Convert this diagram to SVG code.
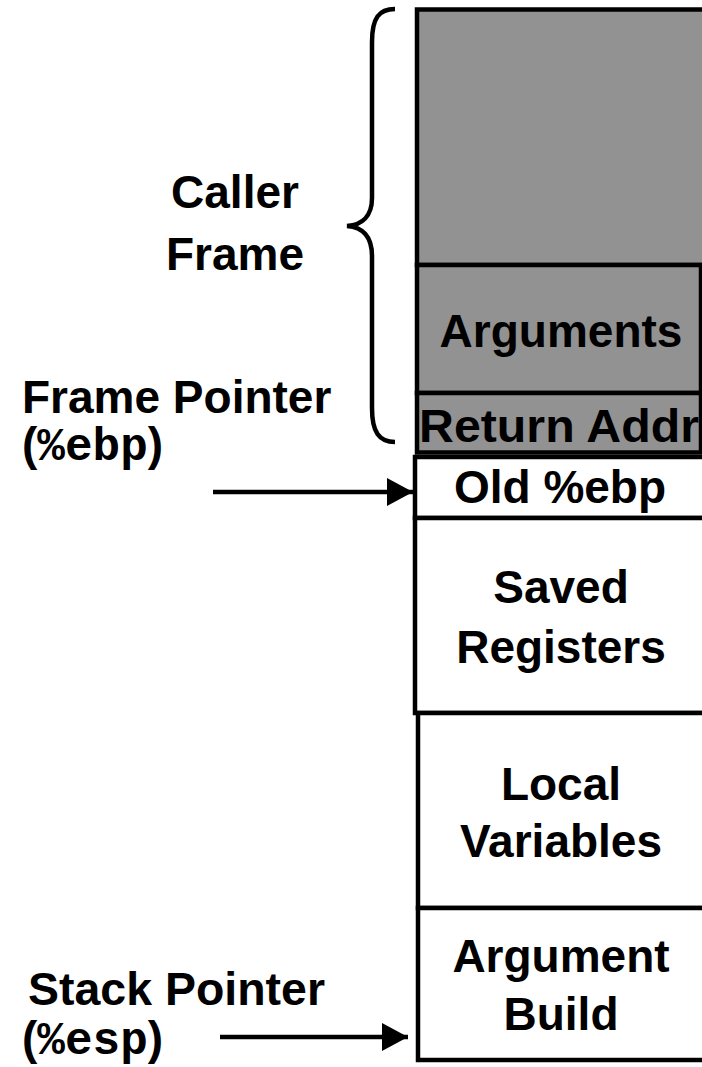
<svg xmlns="http://www.w3.org/2000/svg" width="702" height="1067" viewBox="0 0 702 1067">
<defs>
<style>
.g{fill:#929292;stroke:#000;stroke-width:4.5}
.w{fill:#fff;stroke:#000;stroke-width:4.5}
.t{font-family:"Liberation Sans",Arial,sans-serif;font-weight:bold;font-size:46px;fill:#000;text-anchor:middle}
.l{font-family:"Liberation Sans",Arial,sans-serif;font-weight:bold;font-size:46px;fill:#000}
.m{font-family:"Liberation Mono","Courier New",monospace;font-weight:bold}
.c{stroke:#000;stroke-width:4.5;fill:none}
</style>
<marker id="ah" markerUnits="userSpaceOnUse" markerWidth="28" markerHeight="30" refX="26" refY="14" orient="auto">
<path d="M0,0 L26,14 L0,28 Z" fill="#000"/>
</marker>
</defs>
<rect width="702" height="1067" fill="#fff"/>
<g id="caller-frame-top"><rect class="g" x="417" y="9.5" width="300" height="255.5"/></g>
<g id="arguments"><rect class="g" x="417" y="265" width="284" height="128"/><text class="t" x="561" y="347">Arguments</text></g>
<g id="return-addr"><rect class="g" x="417" y="393" width="284" height="59.5"/><text class="t" x="559" y="442" textLength="280" lengthAdjust="spacingAndGlyphs">Return Addr</text></g>
<g id="old-ebp"><rect class="w" x="415" y="457" width="300" height="61"/><text class="t" x="560" y="503">Old %ebp</text></g>
<g id="saved-registers"><rect class="w" x="415" y="518" width="300" height="195"/><text class="t" x="561" y="603">Saved</text><text class="t" x="561" y="663">Registers</text></g>
<g id="local-variables"><rect class="w" x="418" y="713" width="300" height="195"/><text class="t" x="561" y="800">Local</text><text class="t" x="561" y="857">Variables</text></g>
<g id="argument-build"><rect class="w" x="418" y="908" width="300" height="152"/><text class="t" x="561" y="972">Argument</text><text class="t" x="561" y="1030">Build</text></g>
<g id="caller-frame-label"><text class="t" x="235" y="208">Caller</text><text class="t" x="235" y="270">Frame</text></g>
<g id="frame-pointer-label"><text class="l" x="22" y="413">Frame Pointer</text><text class="l" x="22" y="460">(<tspan class="m">%ebp</tspan>)</text></g>
<g id="stack-pointer-label"><text class="l" x="28" y="1005" textLength="297" lengthAdjust="spacingAndGlyphs">Stack Pointer</text><text class="l" x="22" y="1054">(<tspan class="m">%esp</tspan>)</text></g>
<g id="connectors">
<path class="c" d="M395,9 C379,9 372,18 372,42 L372,198 C372,216 362,225 347,226 C362,227 372,236 372,256 L372,408 C372,432 379,442 395,442"/>
<line class="c" x1="213" y1="492" x2="413" y2="492" marker-end="url(#ah)"/>
<line class="c" x1="220" y1="1037" x2="408" y2="1037" marker-end="url(#ah)"/>
</g>
</svg>
